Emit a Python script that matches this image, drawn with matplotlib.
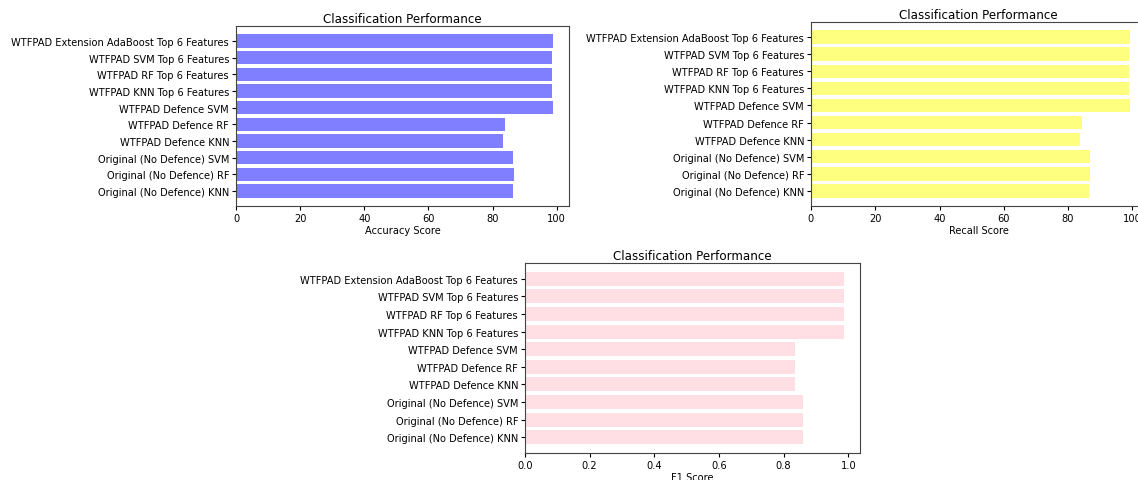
import numpy as np
import matplotlib.pyplot as plt

models = ['Original (No Defence) KNN', 'Original (No Defence) RF', 'Original (No Defence) SVM',
          'WTFPAD Defence KNN', 'WTFPAD Defence RF', 'WTFPAD Defence SVM',
          'WTFPAD KNN Top 6 Features', 'WTFPAD RF Top 6 Features',
          'WTFPAD SVM Top 6 Features', 'WTFPAD Extension AdaBoost Top 6 Features']

accuracy = [86.4, 86.7, 86.4, 83.2, 83.9, 98.9, 98.4, 98.4, 98.4, 98.9]
recall = [86.6, 86.9, 86.9, 83.8, 84.3, 99.3, 99.0, 99.0, 99.0, 99.3]
f1 = [0.859, 0.859, 0.859, 0.835, 0.835, 0.835, 0.987, 0.987, 0.987, 0.987]

W, H = 1138, 481
fig = plt.figure(figsize=(W / 100, H / 100), dpi=100)


def box(l, t, r, b):
    return [l / W, 1 - b / H, (r - l) / W, (b - t) / H]


def panel(rect, vals, color, xlabel):
    ax = fig.add_axes(rect)
    y = np.arange(len(models))
    ax.barh(y, vals, color=color, alpha=0.5)
    ax.set_yticks(y)
    ax.set_yticklabels(models)
    ax.set_xlabel(xlabel, fontsize=7.1, labelpad=1.5)
    ax.set_title('Classification Performance', fontsize=8.6, pad=3)
    ax.tick_params(labelsize=7.1, length=3, pad=2)
    for s in ax.spines.values():
        s.set_linewidth(0.8)
        s.set_color('#444444')
    return ax


panel(box(236, 27, 569, 207), accuracy, 'blue', 'Accuracy Score')
panel(box(811, 23, 1146, 207), recall, 'yellow', 'Recall Score')
panel(box(525, 264, 860, 454), f1, 'pink', 'F1 Score')

fig.savefig('out.png', dpi=100)
